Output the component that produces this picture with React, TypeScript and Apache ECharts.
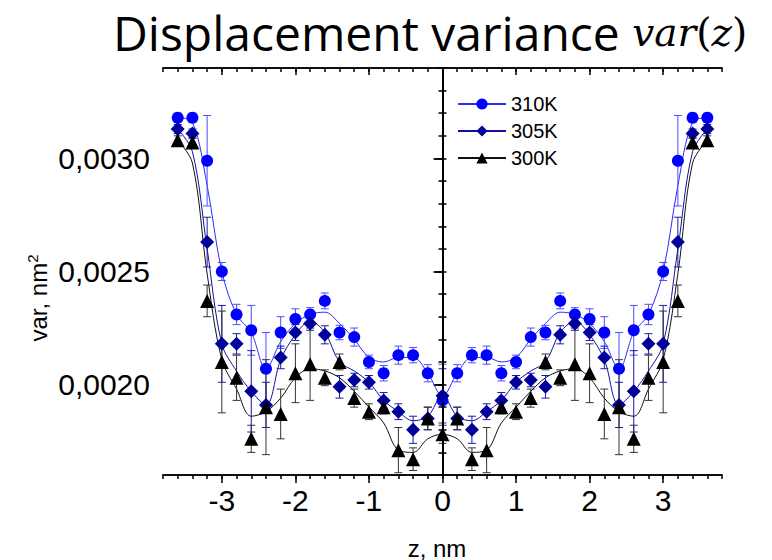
import React, { useEffect, useRef } from 'react';
import * as echarts from 'echarts';

// positions along z (nm)
const zPos = [-3.6, -3.4, -3.2, -3.0, -2.8, -2.6, -2.4, -2.2, -2.0, -1.8, -1.6, -1.4, -1.2, -1.0, -0.8, -0.6, -0.4, -0.2, 0,
  0.2, 0.4, 0.6, 0.8, 1.0, 1.2, 1.4, 1.6, 1.8, 2.0, 2.2, 2.4, 2.6, 2.8, 3.0, 3.2, 3.4, 3.6];

// 310K
const var310 = [0.00318, 0.00318, 0.00299, 0.00250, 0.00231, 0.00224, 0.00207, 0.00223, 0.00229, 0.00231, 0.00237, 0.00223, 0.00221, 0.00210, 0.00205, 0.00213, 0.00213, 0.00205, 0.00193,
  0.00205, 0.00213, 0.00213, 0.00205, 0.00210, 0.00221, 0.00223, 0.00237, 0.00231, 0.00229, 0.00223, 0.00207, 0.00224, 0.00231, 0.00250, 0.00299, 0.00318, 0.00318];
const err310 = [0.00002, 0.00002, 0.00020, 0.00004, 0.000045, 0.00011, 0.00016, 0.00007, 0.000045, 0.00003, 0.000035, 0.000032, 0.00004, 0.00003, 0.000034, 0.00004, 0.000034, 0.000038, 0.00016,
  0.000038, 0.000034, 0.00004, 0.000034, 0.00003, 0.00004, 0.000032, 0.000035, 0.00003, 0.000045, 0.00007, 0.00016, 0.00011, 0.000045, 0.00004, 0.00020, 0.00002, 0.00002];
const fit310 = [0.00318, 0.00316, 0.00288, 0.00250, 0.00231, 0.00223, 0.00207, 0.00219, 0.00227, 0.00231, 0.00232, 0.00227, 0.00220, 0.00212, 0.00210, 0.00212, 0.00212, 0.00205, 0.00195,
  0.00205, 0.00212, 0.00212, 0.00210, 0.00212, 0.00220, 0.00227, 0.00232, 0.00231, 0.00227, 0.00219, 0.00207, 0.00223, 0.00231, 0.00250, 0.00288, 0.00316, 0.00318];

// 305K
const var305 = [0.00313, 0.00311, 0.00263, 0.00218, 0.00218, 0.00197, 0.00191, 0.00212, 0.00223, 0.00227, 0.00222, 0.00199, 0.00202, 0.00201, 0.00193, 0.00188, 0.00180, 0.00185, 0.00195,
  0.00185, 0.00180, 0.00188, 0.00193, 0.00201, 0.00202, 0.00199, 0.00222, 0.00227, 0.00223, 0.00212, 0.00191, 0.00197, 0.00218, 0.00218, 0.00263, 0.00311, 0.00313];
const err305 = [0.00002, 0.00002, 0.00011, 0.00017, 0.000045, 0.00018, 0.00010, 0.00005, 0.000035, 0.00003, 0.00004, 0.00005, 0.00003, 0.00003, 0.000035, 0.000035, 0.00006, 0.00005, 0.00012,
  0.00005, 0.00006, 0.000035, 0.000035, 0.00003, 0.00003, 0.00005, 0.00004, 0.00003, 0.000035, 0.00005, 0.00010, 0.00018, 0.000045, 0.00017, 0.00011, 0.00002, 0.00002];
const fit305 = [0.00313, 0.00303, 0.00260, 0.00218, 0.00206, 0.00197, 0.00191, 0.00211, 0.00222, 0.00228, 0.00223, 0.00210, 0.00206, 0.00201, 0.00193, 0.00188, 0.00184, 0.00186, 0.00195,
  0.00186, 0.00184, 0.00188, 0.00193, 0.00201, 0.00206, 0.00210, 0.00223, 0.00228, 0.00222, 0.00211, 0.00191, 0.00197, 0.00206, 0.00218, 0.00260, 0.00303, 0.00313];

// 300K
const var300 = [0.00308, 0.00307, 0.00237, 0.00210, 0.00203, 0.00176, 0.00190, 0.00187, 0.00205, 0.00209, 0.00203, 0.00210, 0.00194, 0.00188, 0.00190, 0.00171, 0.00167, 0.00185, 0.00178,
  0.00185, 0.00167, 0.00171, 0.00190, 0.00188, 0.00194, 0.00210, 0.00203, 0.00209, 0.00205, 0.00187, 0.00190, 0.00176, 0.00203, 0.00210, 0.00237, 0.00307, 0.00308];
const err300 = [0.00002, 0.00002, 0.00007, 0.000225, 0.00010, 0.00006, 0.00021, 0.00011, 0.00013, 0.00016, 0.000035, 0.000035, 0.00004, 0.000035, 0.00003, 0.00010, 0.00005, 0.00005, 0.00004,
  0.00005, 0.00005, 0.00010, 0.00003, 0.000035, 0.00004, 0.000035, 0.000035, 0.00016, 0.00013, 0.00011, 0.00021, 0.00006, 0.00010, 0.000225, 0.00007, 0.00002, 0.00002];
const fit300 = [0.00308, 0.00298, 0.00249, 0.00211, 0.00198, 0.00186, 0.00188, 0.00194, 0.00203, 0.00207, 0.00206, 0.00203, 0.00197, 0.00190, 0.00183, 0.00171, 0.00170, 0.00176, 0.00178,
  0.00176, 0.00170, 0.00171, 0.00183, 0.00190, 0.00197, 0.00203, 0.00206, 0.00207, 0.00203, 0.00194, 0.00188, 0.00186, 0.00198, 0.00211, 0.00249, 0.00298, 0.00308];

const xMajor = [-3, -2, -1, 0, 1, 2, 3];
const yMajor = [0.0020, 0.0025, 0.0030];
const seriesNames = ['310K', '305K', '300K'];

const FONT = 'Liberation Sans, Arial, sans-serif';

function errRender(color: string) {
  return (params: any, api: any) => {
    const x = api.value(0);
    const lo = api.coord([x, api.value(1)]);
    const hi = api.coord([x, api.value(2)]);
    const cap = 4;
    const style = { stroke: color, lineWidth: 1 };
    return {
      type: 'group',
      children: [
        { type: 'line', shape: { x1: lo[0], y1: lo[1], x2: hi[0], y2: hi[1] }, style },
        { type: 'line', shape: { x1: lo[0] - cap, y1: lo[1], x2: lo[0] + cap, y2: lo[1] }, style },
        { type: 'line', shape: { x1: hi[0] - cap, y1: hi[1], x2: hi[0] + cap, y2: hi[1] }, style },
      ],
    };
  };
}

export default function App() {
  const ref = useRef<HTMLDivElement>(null);
  useEffect(() => {
    if (!ref.current) return;
    const chart = echarts.init(ref.current, undefined, { renderer: 'svg' });
    const mk = (vals: number[]) => zPos.map((z, i) => [z, vals[i]]);
    const mkErr = (vals: number[], errs: number[]) => zPos.map((z, i) => [z, vals[i] - errs[i], vals[i] + errs[i]]);

    const groups = [
      { name: seriesNames[0], vals: var310, errs: err310, fit: fit310, color: '#0000ff', errColor: '#4d4dff', lineColor: '#2a2aff', symbol: 'circle', size: 12 },
      { name: seriesNames[1], vals: var305, errs: err305, fit: fit305, color: '#00009a', errColor: '#1a1aa8', lineColor: '#1010a0', symbol: 'diamond', size: 14 },
      { name: seriesNames[2], vals: var300, errs: err300, fit: fit300, color: '#000000', errColor: '#333333', lineColor: '#111111', symbol: 'triangle', size: 14 },
    ];

    const series: any[] = [];
    groups.forEach((g) => {
      series.push({
        name: g.name, type: 'line', data: mk(g.fit), smooth: 0.35, symbol: g.symbol, showSymbol: false,
        lineStyle: { color: g.lineColor, width: 1 }, itemStyle: { color: g.color }, xAxisIndex: 0, yAxisIndex: 0, z: 2,
      });
    });
    groups.forEach((g) => {
      series.push({
        name: g.name + ' err', type: 'custom', renderItem: errRender(g.errColor), data: mkErr(g.vals, g.errs),
        encode: { x: 0, y: [1, 2] }, xAxisIndex: 0, yAxisIndex: 0, z: 3, silent: true,
      });
    });
    groups.forEach((g, k) => {
      series.push({
        name: g.name + ' pts', type: 'scatter', data: mk(g.vals), symbol: g.symbol, symbolSize: g.size,
        itemStyle: { color: g.color, opacity: 1 }, xAxisIndex: 0, yAxisIndex: 0, z: 4 + k,
      });
    });
    series.push({
      name: 'zero', type: 'line', data: [], xAxisIndex: 0, yAxisIndex: 0,
      markLine: { silent: true, symbol: ['none', 'none'], label: { show: false }, lineStyle: { color: '#000', width: 2, type: 'solid' }, data: [{ xAxis: 0 }] },
    });

    const lineC = { show: true, lineStyle: { color: '#000', width: 1.5 } };
    const xBase = { type: 'value', min: -3.8, max: 3.8, splitLine: { show: false }, axisLine: lineC };
    const yBase = { type: 'value', min: 0.0016, max: 0.0034, splitLine: { show: false }, axisLine: lineC };

    chart.setOption({
      animation: false,
      grid: { left: 163, right: 50, top: 68, bottom: 85, containLabel: false },
      legend: {
        data: seriesNames, orient: 'vertical', left: 452, top: 89, itemWidth: 48, itemHeight: 14, itemGap: 7,
        textStyle: { fontFamily: FONT, fontSize: 20, color: '#000' },
      },
      xAxis: [
        {
          ...xBase, position: 'bottom',
          axisTick: { show: true, inside: false, length: 8, customValues: xMajor, lineStyle: { color: '#000', width: 1.5 } },
          axisLabel: { show: true, customValues: xMajor, fontFamily: FONT, fontSize: 30, color: '#000', margin: 10, formatter: (v: number) => String(v) },
        },
        { ...xBase, position: 'bottom', interval: 0.2, axisTick: { show: true, inside: false, length: 4, lineStyle: { color: '#000', width: 1.5 } }, axisLabel: { show: false } },
        { ...xBase, position: 'top', axisTick: { show: true, inside: true, length: 7, customValues: xMajor, lineStyle: { color: '#000', width: 1.5 } }, axisLabel: { show: false } },
        { ...xBase, position: 'top', interval: 0.2, axisTick: { show: true, inside: true, length: 4, lineStyle: { color: '#000', width: 1.5 } }, axisLabel: { show: false } },
      ],
      yAxis: [
        {
          ...yBase, position: 'left',
          axisTick: { show: true, inside: false, length: 9, customValues: yMajor, lineStyle: { color: '#000', width: 1.5 } },
          axisLabel: { show: true, customValues: yMajor, fontFamily: FONT, fontSize: 30, color: '#000', margin: 13, formatter: (v: number) => v.toFixed(4).replace('.', ',') },
        },
        { ...yBase, position: 'left', interval: 0.0001, axisTick: { show: true, inside: true, length: 4, lineStyle: { color: '#000', width: 1.5 } }, axisLabel: { show: false } },
        { ...yBase, position: 'right', axisTick: { show: true, inside: true, length: 8, customValues: yMajor, lineStyle: { color: '#000', width: 1.5 } }, axisLabel: { show: false } },
        { ...yBase, position: 'right', interval: 0.0001, axisTick: { show: true, inside: true, length: 4, lineStyle: { color: '#000', width: 1.5 } }, axisLabel: { show: false } },
      ],
      graphic: [
        {
          type: 'text', left: 113, top: 8,
          style: {
            text: '{a|Displacement variance }{b|var}{c|(}{b|z}{c|)}',
            rich: {
              a: { fontFamily: 'Open Sans, Noto Sans, sans-serif', fontSize: 48, fill: '#000' },
              b: { fontFamily: 'DejaVu Serif, serif', fontStyle: 'italic', fontSize: 39, fill: '#000' },
              c: { fontFamily: 'DejaVu Serif, serif', fontSize: 39, fill: '#000' },
            },
          },
        },
        {
          type: 'text', x: 437, y: 548,
          style: { text: 'z, nm', fontFamily: FONT, fontSize: 24, fill: '#000', align: 'center', verticalAlign: 'middle' },
        },
        {
          type: 'text', x: 38, y: 298, rotation: Math.PI / 2,
          style: {
            text: '{m|var, nm}{s|2}', align: 'center', verticalAlign: 'middle',
            rich: {
              m: { fontFamily: FONT, fontSize: 24, fill: '#000' },
              s: { fontFamily: FONT, fontSize: 15, fill: '#000', verticalAlign: 'top', padding: [0, 0, 12, 0] },
            },
          },
        },
      ],
      series,
    });
    return () => chart.dispose();
  }, []);
  return <div ref={ref} style={{ position: 'absolute', left: 0, top: 0, width: 772, height: 560 }} />;
}
